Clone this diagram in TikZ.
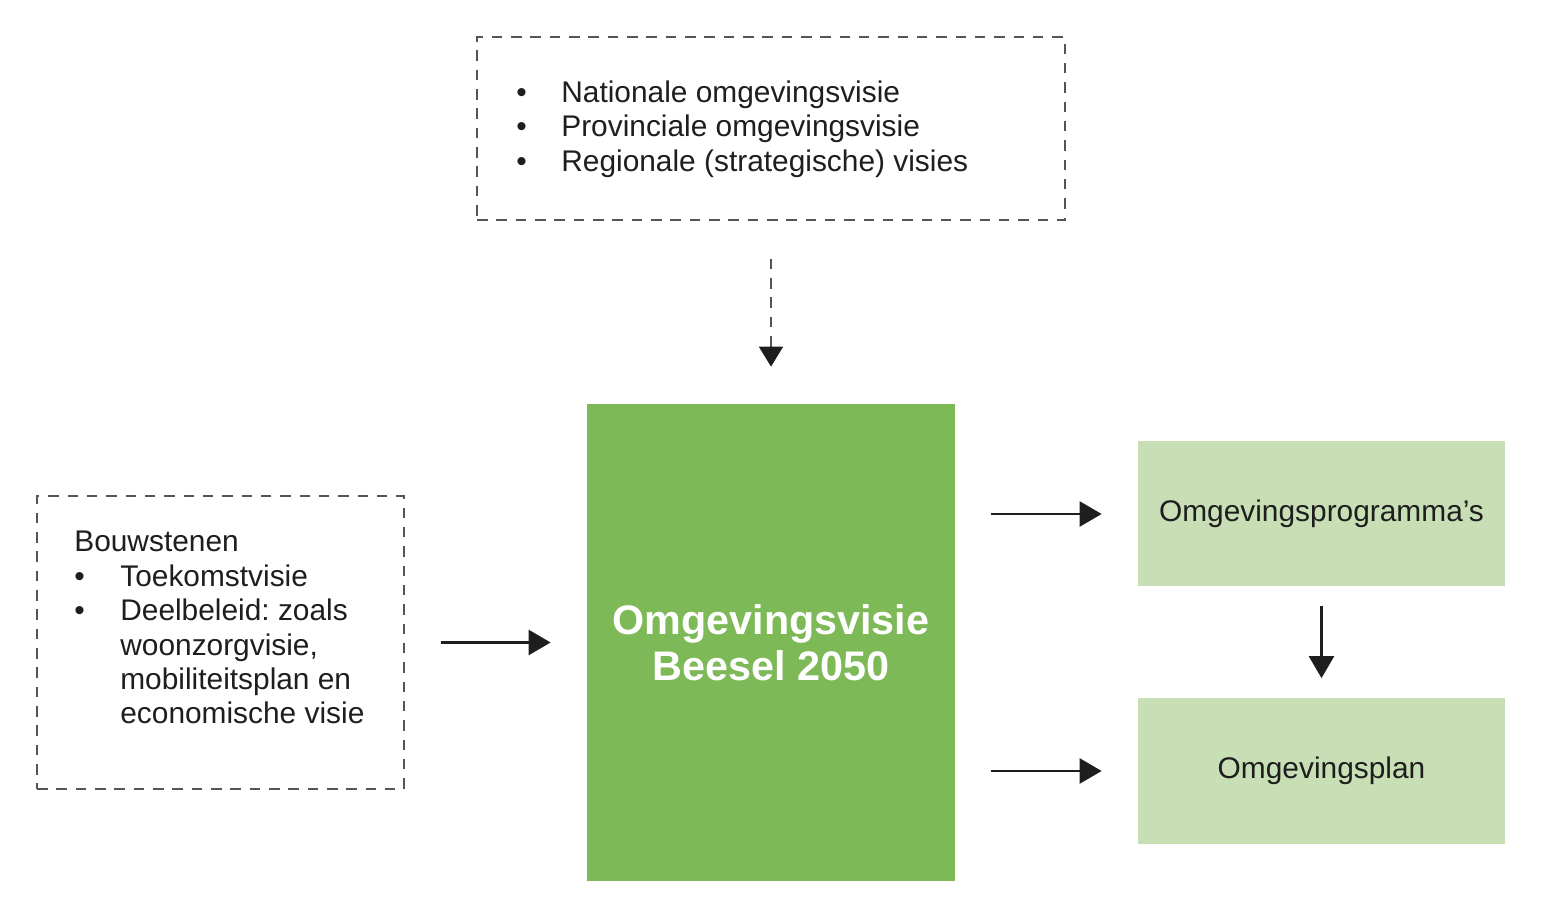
\documentclass[tikz,border=0pt]{standalone}
\usepackage{fontspec}
\setmainfont{Liberation Sans}
\setsansfont{Liberation Sans}
\usepackage{xcolor}
\usepackage{tikz}
\usetikzlibrary{arrows.meta,positioning,calc}
\definecolor{ink}{RGB}{30,30,30}
\definecolor{dash}{RGB}{85,85,85}
\definecolor{groen}{RGB}{125,185,86}
\definecolor{lgroen}{RGB}{200,222,181}
\frenchspacing

\begin{document}
\begin{tikzpicture}[font=\sffamily\fontsize{17}{19.6}\selectfont,
 dbox/.style={draw=dash,line width=0.8pt,dash pattern=on 6pt off 5pt,inner sep=0pt},
 vbox/.style={fill=groen,minimum width=7.36cm,minimum height=9.54cm,inner sep=0pt,text=white,align=center,
   font=\sffamily\bfseries\fontsize{23.5}{26.2}\selectfont},
 pbox/.style={fill=lgroen,minimum width=7.34cm,minimum height=2.9cm,inner sep=0pt,text=ink},
 pijl/.style={draw=ink,line width=1.4pt,-{Triangle[length=0.44cm,width=0.5cm]}},
 dpijl/.style={draw=dash,line width=1pt,dash pattern=on 6pt off 5pt,-{Triangle[length=0.4cm,width=0.48cm,color=ink]}}]
 \useasboundingbox (0,0) rectangle (30.82,-18.34);
 % kaders
 \node[dbox,minimum width=11.76cm,minimum height=3.66cm] (boven) at (15.42,-2.57){};
 \node[dbox,minimum width=7.34cm,minimum height=5.86cm] (bouw) at (4.41,-12.85){};
 \node[vbox] (visie) at (15.42,-12.85){Omgevingsvisie\\Beesel 2050};
 \node[pbox] (prog) at (26.43,-10.28){Omgevingsprogramma’s};
 \node[pbox] (plan) at (26.43,-15.42){Omgevingsplan};
 % teksten
 \node[anchor=west,inner sep=0pt,text=ink] (bovtxt) at (10.32,-2.6){%
   \begin{tabular}{@{}p{0.9cm}@{}l@{}}
   \textbullet & Nationale omgevingsvisie\\
   \textbullet & Provinciale omgevingsvisie\\
   \textbullet & Regionale (strategische) visies
   \end{tabular}};
 \node[anchor=west,inner sep=0pt,text=ink] (bouwtxt) at (1.48,-12.62){%
   \begin{tabular}{@{}p{0.92cm}@{}l@{}}
   \multicolumn{2}{@{}l@{}}{Bouwstenen}\\
   \textbullet & Toekomstvisie\\
   \textbullet & Deelbeleid: zoals\\
   & woonzorgvisie,\\
   & mobiliteitsplan en\\
   & economische visie
   \end{tabular}};
 % pijlen
 \draw[dpijl,shorten <=0.76cm,shorten >=0.74cm] (boven) -- (visie);
 \draw[pijl,shorten <=0.72cm,shorten >=0.72cm] (bouw) -- (visie);
 \draw[pijl,shorten <=0.72cm,shorten >=0.72cm] (visie.east |- prog) -- (prog);
 \draw[pijl,shorten <=0.72cm,shorten >=0.72cm] (visie.east |- plan) -- (plan);
 \draw[pijl,shorten <=0.38cm,shorten >=0.4cm] (prog) -- (plan);
\end{tikzpicture}
\end{document}
